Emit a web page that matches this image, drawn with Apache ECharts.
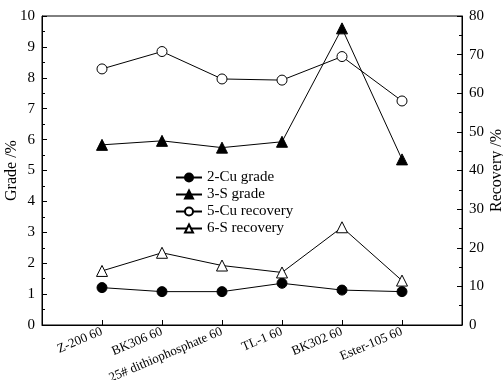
<!DOCTYPE html>
<html>
<head>
<meta charset="utf-8">
<script src="https://cdn.jsdelivr.net/npm/echarts@6/dist/echarts.min.js"></script>
<style>html,body{margin:0;padding:0;background:#fff;}#c{width:503px;height:380px;}</style>
</head>
<body>
<div id="c"></div>
<script>
var categories = ['Z-200 60', 'BK306 60', '25# dithiophosphate 60', 'TL-1 60', 'BK302 60', 'Ester-105 60'];
var cuGrade = [1.21, 1.08, 1.08, 1.35, 1.13, 1.08];
var sGrade = [5.83, 5.96, 5.74, 5.93, 9.6, 5.36];
var cuRecovery = [66.3, 70.8, 63.7, 63.4, 69.5, 58.0];
var sRecovery = [14.0, 18.7, 15.4, 13.6, 25.3, 11.5];
var gradeTicks = [0, 10, 1];
var recoveryTicks = [0, 80, 10];

function pts(arr) { return arr.map(function (v, i) { return [i + 1, v]; }); }
var font = 'Liberation Serif';
var chart = echarts.init(document.getElementById('c'));
function tag(text, x, y) {
  return { data: [{ coord: [x, y], symbol: 'none', label: { show: true, formatter: text, position: 'inside', color: '#000', fontFamily: font, fontSize: 15 } }], symbol: 'none', silent: true, animation: false };
}
var common = { type: 'line', lineStyle: { color: '#000', width: 1 }, itemStyle: { color: '#000', borderColor: '#000', borderWidth: 1 }, symbolSize: 10, animation: false, z: 3 };
var hollow = { color: '#fff', borderColor: '#000', borderWidth: 1 };
chart.setOption({
  animation: false,
  grid: { left: 42, right: 41, top: 16, bottom: 55, show: true, borderColor: '#000', borderWidth: 1, containLabel: false, outerBoundsMode: 'none' },
  legend: {
    orient: 'vertical', left: 170, top: 165, itemWidth: 26, itemHeight: 10, itemGap: 2,
    textStyle: { fontFamily: font, fontSize: 15, color: '#000' },
    data: ['2-Cu grade', '3-S grade', '5-Cu recovery', '6-S recovery']
  },
  xAxis: {
    type: 'value', min: 0, max: 7, interval: 1,
    axisLine: { lineStyle: { color: '#000', width: 1 } },
    axisTick: { inside: true, length: 5, lineStyle: { color: '#000' } },
    splitLine: { show: false },
    axisLabel: {
      rotate: 23, fontFamily: font, fontSize: 13, color: '#000', margin: 6,
      formatter: function (v) { return categories[v - 1] || ''; }
    }
  },
  yAxis: [{
    type: 'value', min: gradeTicks[0], max: gradeTicks[1], interval: gradeTicks[2],
    name: 'Grade /%', nameLocation: 'middle', nameGap: 22, nameRotate: 90, nameMoveOverlap: false,
    nameTextStyle: { fontFamily: font, fontSize: 16, color: '#000' },
    axisLine: { show: true, lineStyle: { color: '#000', width: 1 } },
    axisTick: { inside: true, length: 5, lineStyle: { color: '#000' } },
    minorTick: { show: true, splitNumber: 2, length: 3, lineStyle: { color: '#000' } },
    splitLine: { show: false },
    axisLabel: { fontFamily: font, fontSize: 15, color: '#000', margin: 7 }
  }, {
    type: 'value', position: 'right', min: recoveryTicks[0], max: recoveryTicks[1], interval: recoveryTicks[2],
    name: 'Recovery /%', nameLocation: 'middle', nameGap: 27, nameRotate: 90, nameMoveOverlap: false,
    nameTextStyle: { fontFamily: font, fontSize: 16, color: '#000' },
    axisLine: { show: true, lineStyle: { color: '#000', width: 1 } },
    axisTick: { inside: true, length: 5, lineStyle: { color: '#000' } },
    minorTick: { show: true, splitNumber: 2, length: 3, lineStyle: { color: '#000' } },
    splitLine: { show: false },
    axisLabel: { fontFamily: font, fontSize: 15, color: '#000', margin: 7 }
  }],
  series: [
    Object.assign({}, common, { name: '2-Cu grade', yAxisIndex: 0, symbol: 'circle', data: pts(cuGrade), markPoint: tag('2', 1.53, 1.42) }),
    Object.assign({}, common, { name: '3-S grade', yAxisIndex: 0, symbol: 'triangle', symbolSize: 11, data: pts(sGrade), markPoint: tag('3', 1.52, 6.2) }),
    Object.assign({}, common, { name: '5-Cu recovery', yAxisIndex: 1, symbol: 'circle', itemStyle: hollow, data: pts(cuRecovery), markPoint: tag('5', 1.52, 71.0) }),
    Object.assign({}, common, { name: '6-S recovery', yAxisIndex: 1, symbol: 'triangle', symbolSize: 11, itemStyle: hollow, data: pts(sRecovery), markPoint: tag('6', 1.53, 18.2) })
  ]
});
</script>
</body>
</html>
